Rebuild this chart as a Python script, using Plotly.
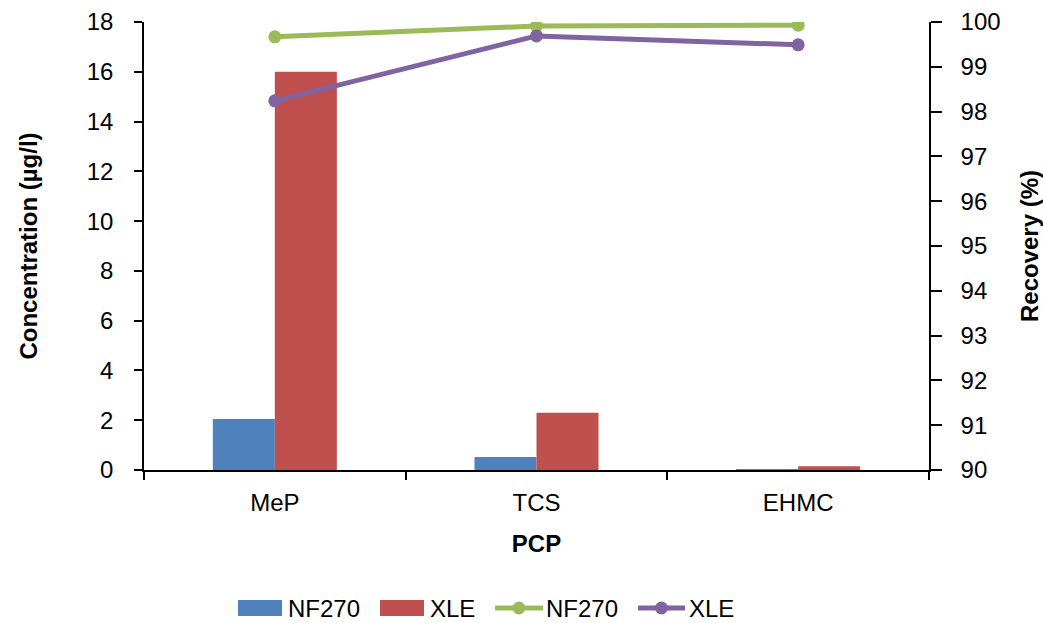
import plotly.graph_objects as go

categories = ["MeP", "TCS", "EHMC"]
conc_nf270 = [2.05, 0.52, 0.03]
conc_xle = [16.0, 2.3, 0.15]
rec_nf270 = [99.67, 99.91, 99.93]
rec_xle = [98.24, 99.69, 99.49]
legend_labels = ["NF270", "XLE", "NF270", "XLE"]

FONT = "Liberation Sans, Arial, sans-serif"
BLUE, RED, GREEN, PURPLE = "#4f81bd", "#c0504d", "#9bbb59", "#8064a2"

W, H = 1043, 623
ML, MR, MT, MB = 144, 114, 22, 0
PLOT_H = 448  # pixel height of the plotting area


def px(x):
    return (x - ML) / (W - ML - MR)


def py(y):
    return (H - MB - y) / (H - MT - MB)


fig = go.Figure()
fig.add_trace(go.Bar(x=categories, y=conc_nf270, name="NF270", marker_color=BLUE,
                     marker_line_width=0))
fig.add_trace(go.Bar(x=categories, y=conc_xle, name="XLE", marker_color=RED,
                     marker_line_width=0))
fig.add_trace(go.Scatter(x=categories, y=rec_nf270, name="NF270", yaxis="y2",
                         mode="lines+markers", line=dict(color=GREEN, width=5),
                         marker=dict(size=13, color=GREEN)))
fig.add_trace(go.Scatter(x=categories, y=rec_xle, name="XLE", yaxis="y2",
                         mode="lines+markers", line=dict(color=PURPLE, width=5),
                         marker=dict(size=13, color=PURPLE)))

# Excel-style legend below the chart
LEG_Y = 608
shapes, annotations = [], []
for (x0, x1), col in [((238, 282), BLUE), ((380, 424), RED)]:
    shapes.append(dict(type="rect", xref="paper", yref="paper",
                       x0=px(x0), x1=px(x1), y0=py(LEG_Y + 8), y1=py(LEG_Y - 8),
                       fillcolor=col, line=dict(width=0)))
for (x0, x1), col in [((495, 543), GREEN), ((638, 685), PURPLE)]:
    shapes.append(dict(type="line", xref="paper", yref="paper",
                       x0=px(x0), x1=px(x1), y0=py(LEG_Y), y1=py(LEG_Y),
                       line=dict(color=col, width=5)))
    cx = (x0 + x1) / 2
    shapes.append(dict(type="circle", xref="paper", yref="paper",
                       x0=px(cx - 6.5), x1=px(cx + 6.5), y0=py(LEG_Y + 6.5), y1=py(LEG_Y - 6.5),
                       fillcolor=col, line=dict(width=0)))
for xl, txt in zip([287, 429, 545, 688], legend_labels):
    annotations.append(dict(text=txt, xref="paper", yref="paper", x=px(xl), y=py(LEG_Y),
                            xanchor="left", yanchor="middle", showarrow=False,
                            borderpad=0, font=dict(size=24, color="black")))

fig.update_layout(
    width=W, height=H,
    margin=dict(l=ML, r=MR, t=MT, b=MB, autoexpand=False),
    paper_bgcolor="white", plot_bgcolor="white",
    font=dict(family=FONT, size=24, color="black"),
    barmode="group", bargap=0.526, bargroupgap=0,
    showlegend=False,
    shapes=shapes, annotations=annotations,
    xaxis=dict(range=[-0.5, 2.5], showline=True, linecolor="black", linewidth=2,
               ticks="outside", tickson="boundaries", ticklen=8, tickcolor="black",
               tickwidth=1.5, showgrid=False, zeroline=False, ticklabelstandoff=10,
               title=dict(text="<b>PCP</b>", font=dict(size=24), standoff=20)),
    yaxis=dict(domain=[(H - MT - MB - PLOT_H) / (H - MT - MB), 1], range=[0, 18], dtick=2,
               showline=True, linecolor="black", linewidth=1.5,
               ticks="outside", ticklen=8, tickcolor="black", tickwidth=1.5,
               showgrid=False, zeroline=False, ticklabelstandoff=16,
               title=dict(text="<b>Concentration (µg/l)</b>", font=dict(size=24), standoff=42)),
    yaxis2=dict(range=[90, 100], dtick=1, overlaying="y", side="right", showline=True,
                linecolor="black", linewidth=1.5, ticks="outside", ticklen=11,
                tickcolor="black", tickwidth=1.5, showgrid=False, zeroline=False,
                ticklabelstandoff=14,
                title=dict(text="<b>Recovery (%)</b>", font=dict(size=24), standoff=22)),
)

fig.write_html("out.html")
